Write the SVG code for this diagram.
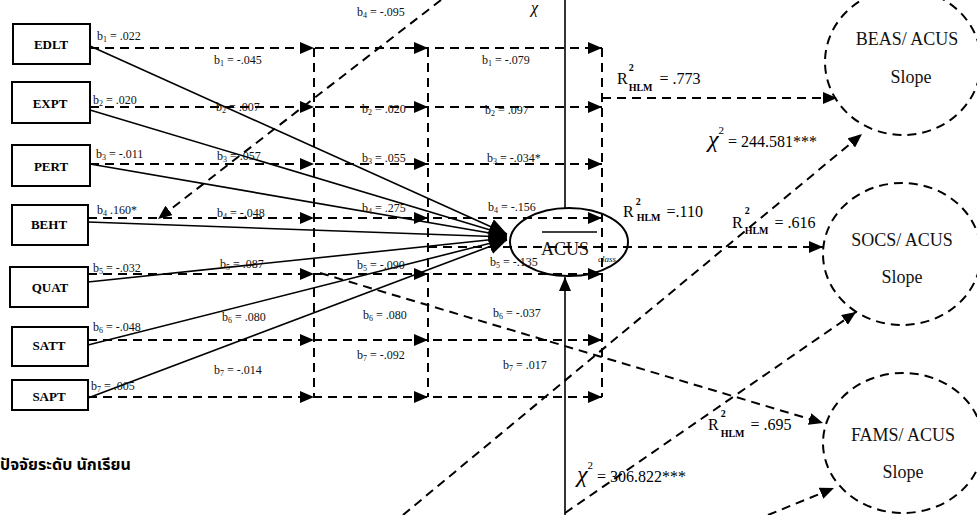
<svg xmlns="http://www.w3.org/2000/svg" width="977" height="515" viewBox="0 0 977 515">
<style>
.bx{fill:#fff;stroke:#000;stroke-width:2}
.bl{font-family:"Liberation Serif",serif;font-size:13px;font-weight:bold;text-anchor:middle;fill:#000}
.t{font-family:"Liberation Serif",serif;font-size:12px;fill:#111}
.s{font-size:8px}
.r{font-family:"Liberation Serif",serif;font-size:16px;fill:#000}
.rs{font-size:10px;font-weight:bold}
.cl{font-family:"Liberation Serif",serif;font-size:18px;fill:#111;text-anchor:middle}
.d{fill:none;stroke:#000;stroke-width:2;stroke-dasharray:9 6}
.sl{fill:none;stroke:#000;stroke-width:1.6}
.da{marker-end:url(#ah)}
.rw{marker-mid:url(#ah);marker-end:url(#ah)}
.cv{marker-end:url(#big)}
</style>
<defs>
<marker id="ah" viewBox="0 0 14 12" refX="14" refY="6" markerWidth="14" markerHeight="12" markerUnits="userSpaceOnUse" orient="auto"><path d="M0,0 L14,6 L0,12 z" fill="#000" stroke="none"/></marker>
<marker id="big" viewBox="0 0 18 16" refX="18" refY="8" markerWidth="18" markerHeight="16" markerUnits="userSpaceOnUse" orient="auto"><path d="M0,0 L18,8 L0,16 z" fill="#000" stroke="none"/></marker>
</defs>

<g id="connectors">
<path class="d rw" d="M90,48 H314 H428 H602"/>
<path class="d rw" d="M90,107 H314 H428 H602"/>
<path class="d rw" d="M90,164 H314 H428 H602"/>
<path class="d rw" d="M88,218 H314 H428 H602"/>
<path class="d rw" d="M88,274 H314 H428 H602"/>
<path class="d rw" d="M88,340 H314 H428 H602"/>
<path class="d rw" d="M88,397 H314 H428 H602"/>
<path class="d" d="M314,48 V397"/>
<path class="d" d="M428,48 V397"/>
<path class="d" d="M602,48 V397"/>
<path class="sl cv" d="M90,46 L507,234"/>
<path class="sl cv" d="M90,110 L507,235"/>
<path class="sl cv" d="M90,164 L507,236"/>
<path class="sl cv" d="M88,222 L507,237"/>
<path class="sl cv" d="M88,282 L507,238"/>
<path class="sl cv" d="M88,345 L507,239"/>
<path class="sl cv" d="M88,398 L507,240"/>
<path class="sl" d="M565,0 V208" stroke-width="2"/>
<path class="sl da" d="M565,515 V277" stroke-width="2"/>
<path class="d da" d="M602,98 H837"/>
<path class="d da" d="M428,247 H823"/>
<path class="d da" d="M441,0 L158,219"/>
<path class="d da" d="M320,273 L823,423"/>
<path class="d da" d="M403,515 L862,134"/>
<path class="d da" d="M565,513 L856,312"/>
<path class="d da" d="M768,515 L834,488"/>
</g>

<g id="EDLT"><rect class="bx" x="13" y="24" width="77" height="40"/><text class="bl" x="51" y="49">EDLT</text></g>
<g id="EXPT"><rect class="bx" x="12" y="82" width="78" height="41"/><text class="bl" x="50" y="108">EXPT</text></g>
<g id="PERT"><rect class="bx" x="12" y="145" width="78" height="41"/><text class="bl" x="51" y="171">PERT</text></g>
<g id="BEHT"><rect class="bx" x="12" y="205" width="76" height="40"/><text class="bl" x="49" y="229">BEHT</text></g>
<g id="QUAT"><rect class="bx" x="10" y="267" width="78" height="40"/><text class="bl" x="50" y="292">QUAT</text></g>
<g id="SATT"><rect class="bx" x="12" y="327" width="76" height="39"/><text class="bl" x="49" y="350">SATT</text></g>
<g id="SAPT"><rect class="bx" x="12" y="380" width="76" height="30"/><text class="bl" x="49" y="401">SAPT</text></g>

<g id="ACUS">
<ellipse cx="569" cy="242" rx="59" ry="34" fill="none" stroke="#000" stroke-width="2"/>
<path d="M542,232 H597" stroke="#000" stroke-width="1.5"/>
<text class="cl" x="565" y="255">ACUS</text>
<text x="598" y="262" font-family="Liberation Serif, serif" font-size="9" font-style="italic" fill="#111">class</text>
</g>

<g id="BEAS">
<ellipse cx="903" cy="62" rx="78" ry="73" class="d" stroke-dasharray="7 8"/>
<text class="cl" x="907" y="45">BEAS/ ACUS</text>
<text class="cl" x="911" y="83">Slope</text>
</g>
<g id="SOCS">
<ellipse cx="902" cy="254" rx="79" ry="71" class="d" stroke-dasharray="7 8"/>
<text class="cl" x="902" y="246">SOCS/ ACUS</text>
<text class="cl" x="902" y="283">Slope</text>
</g>
<g id="FAMS">
<ellipse cx="903" cy="443" rx="80" ry="70" class="d" stroke-dasharray="7 8"/>
<text class="cl" x="903" y="441">FAMS/ ACUS</text>
<text class="cl" x="903" y="478">Slope</text>
</g>

<g id="labels">
<text class="t" x="97" y="40">b<tspan class="s" dy="2">1</tspan><tspan dy="-2"> = .022</tspan></text>
<text class="t" x="93" y="104">b<tspan class="s" dy="2">2</tspan><tspan dy="-2"> = .020</tspan></text>
<text class="t" x="96" y="158">b<tspan class="s" dy="2">3</tspan><tspan dy="-2"> = -.011</tspan></text>
<text class="t" x="97" y="214">b<tspan class="s" dy="2">4</tspan><tspan dy="-2"> .160*</tspan></text>
<text class="t" x="93" y="272">b<tspan class="s" dy="2">5</tspan><tspan dy="-2"> = -.032</tspan></text>
<text class="t" x="93" y="331">b<tspan class="s" dy="2">6</tspan><tspan dy="-2"> = -.048</tspan></text>
<text class="t" x="91" y="390">b<tspan class="s" dy="2">7</tspan><tspan dy="-2"> = .005</tspan></text>

<text class="t" x="214" y="64">b<tspan class="s" dy="2">1</tspan><tspan dy="-2"> = -.045</tspan></text>
<text class="t" x="216" y="111">b<tspan class="s" dy="2">2</tspan><tspan dy="-2"> = .007</tspan></text>
<text class="t" x="217" y="160">b<tspan class="s" dy="2">3</tspan><tspan dy="-2"> = .057</tspan></text>
<text class="t" x="217" y="217">b<tspan class="s" dy="2">4</tspan><tspan dy="-2"> = -.048</tspan></text>
<text class="t" x="220" y="268">b<tspan class="s" dy="2">5</tspan><tspan dy="-2"> = .087</tspan></text>
<text class="t" x="222" y="321">b<tspan class="s" dy="2">6</tspan><tspan dy="-2"> = .080</tspan></text>
<text class="t" x="214" y="374">b<tspan class="s" dy="2">7</tspan><tspan dy="-2"> = -.014</tspan></text>

<text class="t" x="357" y="16">b<tspan class="s" dy="2">4</tspan><tspan dy="-2"> = -.095</tspan></text>
<text class="t" x="362" y="113">b<tspan class="s" dy="2">2</tspan><tspan dy="-2"> = .020</tspan></text>
<text class="t" x="362" y="162">b<tspan class="s" dy="2">3</tspan><tspan dy="-2"> = .055</tspan></text>
<text class="t" x="362" y="212">b<tspan class="s" dy="2">4</tspan><tspan dy="-2"> = .275</tspan></text>
<text class="t" x="357" y="269">b<tspan class="s" dy="2">5</tspan><tspan dy="-2"> = -.090</tspan></text>
<text class="t" x="363" y="319">b<tspan class="s" dy="2">6</tspan><tspan dy="-2"> = .080</tspan></text>
<text class="t" x="357" y="359">b<tspan class="s" dy="2">7</tspan><tspan dy="-2"> = -.092</tspan></text>

<text class="t" x="482" y="64">b<tspan class="s" dy="2">1</tspan><tspan dy="-2"> = -.079</tspan></text>
<text class="t" x="485" y="114">b<tspan class="s" dy="2">2</tspan><tspan dy="-2"> = .097</tspan></text>
<text class="t" x="487" y="162">b<tspan class="s" dy="2">3</tspan><tspan dy="-2"> = -.034*</tspan></text>
<text class="t" x="488" y="211">b<tspan class="s" dy="2">4</tspan><tspan dy="-2"> = -.156</tspan></text>
<text class="t" x="490" y="266">b<tspan class="s" dy="2">5</tspan><tspan dy="-2"> = -.135</tspan></text>
<text class="t" x="493" y="317">b<tspan class="s" dy="2">6</tspan><tspan dy="-2"> = -.037</tspan></text>
<text class="t" x="503" y="369">b<tspan class="s" dy="2">7</tspan><tspan dy="-2"> = .017</tspan></text>

<text class="r" x="617" y="84">R<tspan class="rs" dx="1" dy="-13">2</tspan><tspan class="rs" dx="-5" dy="20">HLM</tspan><tspan dx="3" dy="-7"> = .773</tspan></text>
<text class="r" x="623" y="217">R<tspan class="rs" dx="2" dy="-12" font-weight="normal">2</tspan><tspan class="rs" dx="-4" dy="16">HLM</tspan><tspan dx="2" dy="-4"> =.110</tspan></text>
<text class="r" x="732" y="228">R<tspan class="rs" dx="2" dy="-14">2</tspan><tspan class="rs" dx="-5" dy="20">HLM</tspan><tspan dx="2" dy="-6"> = .616</tspan></text>
<text class="r" x="708" y="430">R<tspan class="rs" dx="2" dy="-13">2</tspan><tspan class="rs" dx="-5" dy="20">HLM</tspan><tspan dx="2" dy="-7"> = .695</tspan></text>

<text class="r" x="708" y="147"><tspan font-size="24" font-style="italic">χ</tspan><tspan font-size="11" dy="-13">2</tspan><tspan dy="13"> = 244.581***</tspan></text>
<text class="r" x="577" y="482"><tspan font-size="24" font-style="italic">χ</tspan><tspan font-size="11" dy="-13">2</tspan><tspan dy="13"> = 306.822***</tspan></text>
<text class="r" x="531" y="13" font-size="20" font-style="italic">χ</text>

<text x="0" y="470" font-family="'Noto Sans Thai','Noto Serif Thai',Loma,Garuda,'DejaVu Sans',sans-serif" font-size="16" font-weight="bold" fill="#000">ปัจจัยระดับ นักเรียน</text>
</g>
</svg>
